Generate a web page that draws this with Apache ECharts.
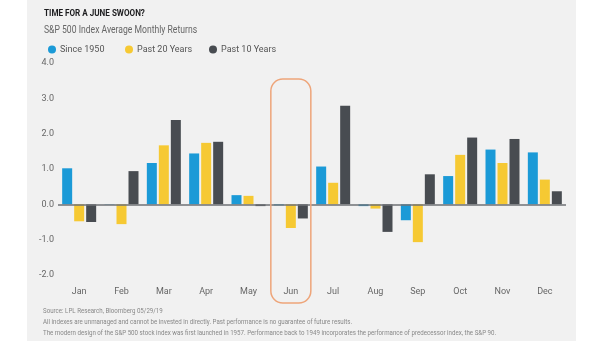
<!DOCTYPE html>
<html>
<head>
<meta charset="utf-8">
<script src="https://cdn.jsdelivr.net/npm/echarts@6/dist/echarts.min.js"></script>
<style>
html,body{margin:0;padding:0;background:#fff;}
#chart{width:605px;height:341px;}
</style>
</head>
<body>
<div id="chart"></div>
<script>
var months = ['Jan','Feb','Mar','Apr','May','Jun','Jul','Aug','Sep','Oct','Nov','Dec'];
var since1950 = [1.02, 0.01, 1.17, 1.44, 0.26, -0.03, 1.07, -0.05, -0.45, 0.80, 1.55, 1.47];
var past20 = [-0.48, -0.56, 1.67, 1.74, 0.24, -0.67, 0.61, -0.12, -1.07, 1.40, 1.17, 0.70];
var past10 = [-0.50, 0.94, 2.39, 1.77, -0.05, -0.40, 2.79, -0.78, 0.85, 1.89, 1.85, 0.37];
var seriesNames = ['Since 1950', 'Past 20 Years', 'Past 10 Years'];
var highlightMonth = 'Jun';
var titleText = 'TIME FOR A JUNE SWOON?';
var subtitleText = 'S&P 500 Index Average Monthly Returns';
var footnotes = [
  'Source: LPL Research, Bloomberg 05/29/19',
  'All indexes are unmanaged and cannot be invested in directly. Past performance is no guarantee of future results.',
  'The modern design of the S&P 500 stock index was first launched in 1957. Performance back to 1949 incorporates the performance of predecessor index, the S&P 90.'
];

var FONT = 'Roboto, "Liberation Sans", sans-serif';
var colors = ['#1b9ad7', '#f6c933', '#484c51'];

var chart = echarts.init(document.getElementById('chart'), null, {renderer: 'canvas'});

function barSeries(name, data, idx) {
  var s = {
    name: name, type: 'bar', data: data, barWidth: 10, barGap: '20%',
    itemStyle: {color: colors[idx]}
  };
  if (idx === 0) {
    s.markLine = {
      silent: true, symbol: 'none', label: {show: false},
      lineStyle: {color: '#6e7175', width: 1.5, type: 'solid'},
      data: [{yAxis: 0}]
    };
  }
  return s;
}

var legendLefts = [43, 120, 204];
var legends = seriesNames.map(function (n, i) {
  return {
    left: legendLefts[i], top: 40, icon: 'circle', itemWidth: 8, itemHeight: 8, itemGap: 5,
    textStyle: {fontFamily: FONT, fontSize: 9, color: '#555', padding: [0, 0, 0, -1]},
    data: [n]
  };
});

var option = {
  backgroundColor: '#ffffff',
  animation: false,
  textStyle: {fontFamily: FONT},
  legend: legends,
  grid: {left: 58, right: 39, top: 63, bottom: 66},
  xAxis: {
    type: 'category', data: months,
    axisLine: {show: false, onZero: false},
    axisTick: {show: false},
    axisLabel: {fontFamily: FONT, fontSize: 9, color: '#666', margin: 12}
  },
  yAxis: {
    type: 'value', min: -2, max: 4, interval: 1,
    axisLine: {show: false}, axisTick: {show: false}, splitLine: {show: false},
    axisLabel: {fontFamily: FONT, fontSize: 9, color: '#666', margin: 4,
      formatter: function (v) { return v.toFixed(1); }}
  },
  series: [
    barSeries(seriesNames[0], since1950, 0),
    barSeries(seriesNames[1], past20, 1),
    barSeries(seriesNames[2], past10, 2)
  ]
};
chart.setOption(option);

var cx = chart.convertToPixel({xAxisIndex: 0}, highlightMonth);
var topY = chart.convertToPixel({yAxisIndex: 0}, 3.55);
var botY = chart.convertToPixel({yAxisIndex: 0}, -2) + 28;

var graphics = [
  {type: 'rect', z: -10, silent: true, shape: {x: 27, y: 0, width: 549, height: 341},
   style: {fill: '#f1f1f1'}},
  {type: 'rect', z: 10, silent: true,
   shape: {x: cx - 20, y: topY, width: 40, height: botY - topY, r: 12},
   style: {fill: 'none', stroke: '#eea57a', lineWidth: 1.5}},
  {type: 'text', x: 44, y: 14, scaleX: 0.9, silent: true,
   style: {text: titleText, fontFamily: FONT, fontWeight: 'bold', fontSize: 9,
     fill: '#1d1d1f', verticalAlign: 'middle'}},
  {type: 'text', x: 44, y: 30, scaleX: 0.86, silent: true,
   style: {text: subtitleText, fontFamily: FONT, fontSize: 10,
     fill: '#666', verticalAlign: 'middle'}}
];
footnotes.forEach(function (t, i) {
  graphics.push({type: 'text', x: 43, y: 311 + i * 11, scaleX: 0.88, silent: true,
    style: {text: t, fontFamily: FONT, fontSize: 7, fill: '#888', verticalAlign: 'middle'}});
});
chart.setOption({graphic: graphics});
</script>
</body>
</html>
